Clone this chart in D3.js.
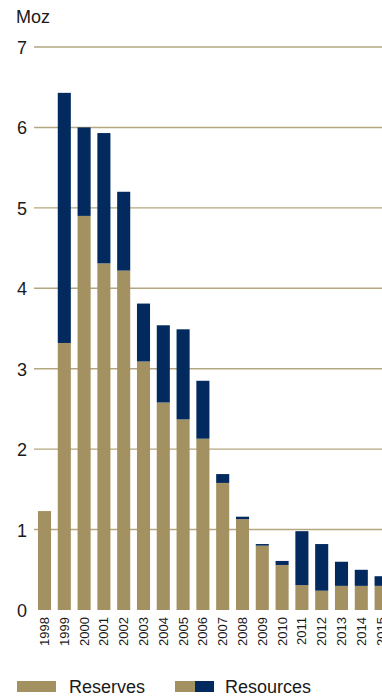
<!DOCTYPE html>
<html><head><meta charset="utf-8">
<script src="https://cdn.jsdelivr.net/npm/d3@7"></script>
<style>
html,body{margin:0;padding:0;background:#fff;overflow:hidden}
text{font-family:"Liberation Sans",Arial,sans-serif;fill:#1a1a1a}
</style></head><body>
<svg id="c" width="382" height="697"></svg>
<script>
const years = ["1998","1999","2000","2001","2002","2003","2004","2005","2006","2007","2008","2009","2010","2011","2012","2013","2014","2015"];
const reserves  = [1.23,3.32,4.90,4.31,4.22,3.09,2.58,2.37,2.13,1.58,1.13,0.80,0.56,0.31,0.24,0.30,0.30,0.30];
const resources = [0.00,3.11,1.10,1.62,0.98,0.72,0.96,1.12,0.72,0.11,0.03,0.02,0.05,0.67,0.58,0.30,0.20,0.12];
const yTicks = [0,1,2,3,4,5,6,7];
const unitLabel = "Moz";
const legendLabels = ["Reserves","Resources"];

const tan = "#A39162", navy = "#022A5E", grid = "#B3A680";
const svg = d3.select("#c");

const y = d3.scaleLinear().domain([0,7]).range([610,47]);
const x = d3.scaleBand().domain(years).range([34.6, 34.6 + 19.8*years.length]).paddingInner(0.34).paddingOuter(0.17);

// gridlines
svg.append("g").selectAll("line").data(yTicks.filter(d=>d>0)).join("line")
  .attr("x1",34).attr("x2",382).attr("y1",d=>y(d)).attr("y2",d=>y(d))
  .attr("stroke",grid).attr("stroke-width",1.4);

// y axis labels
const yAxis = d3.axisLeft(y).tickValues(yTicks).tickSize(0).tickPadding(0).tickFormat(d3.format("d"));
const ga = svg.append("g").attr("transform","translate(27,0)").call(yAxis);
ga.select(".domain").remove();
ga.selectAll("text").attr("font-size",18).attr("fill","#1a1a1a")
  .attr("font-family","'Liberation Sans',Arial,sans-serif").attr("dy","0.36em");

svg.append("text").attr("x",16).attr("y",23).attr("font-size",18).text(unitLabel);

// bars
const data = years.map((yr,i)=>({yr, r:reserves[i], s:resources[i]}));
svg.append("g").selectAll("rect").data(data).join("rect")
  .attr("x",d=>x(d.yr)).attr("width",x.bandwidth())
  .attr("y",d=>y(d.r)).attr("height",d=>y(0)-y(d.r)).attr("fill",tan);
svg.append("g").selectAll("rect").data(data.filter(d=>d.s>0)).join("rect")
  .attr("x",d=>x(d.yr)).attr("width",x.bandwidth())
  .attr("y",d=>y(d.r+d.s)).attr("height",d=>y(d.r)-y(d.r+d.s)).attr("fill",navy);

// x labels
svg.append("g").selectAll("text").data(years).join("text")
  .attr("transform",d=>`translate(${x(d)+x.bandwidth()/2+4.5},617) rotate(-90)`)
  .attr("text-anchor","end").attr("font-size",13).text(d=>d);

// legend
const lg = svg.append("g");
lg.append("rect").attr("x",17).attr("y",681).attr("width",39).attr("height",11).attr("fill",tan);
lg.append("text").attr("x",69).attr("y",693).attr("font-size",18).text(legendLabels[0]);
lg.append("rect").attr("x",175).attr("y",681).attr("width",20).attr("height",11).attr("fill",tan);
lg.append("rect").attr("x",195).attr("y",681).attr("width",19).attr("height",11).attr("fill",navy);
lg.append("text").attr("x",225).attr("y",693).attr("font-size",18).text(legendLabels[1]);
</script></body></html>
